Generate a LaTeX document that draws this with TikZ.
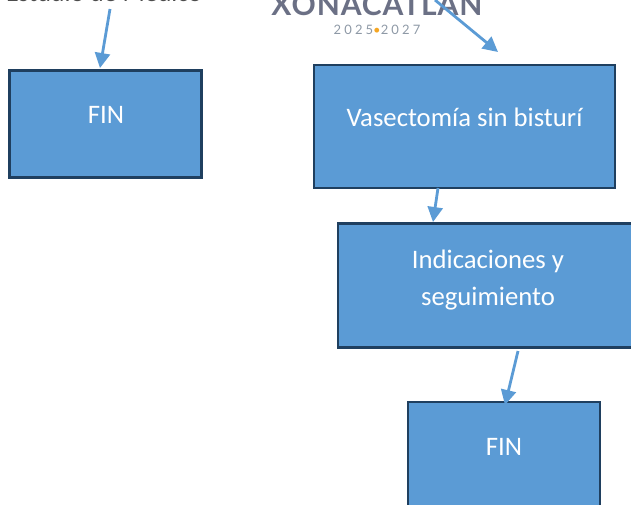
\documentclass[tikz,border=0pt]{standalone}
\usepackage{fontspec}
\setmainfont{Carlito}
\newfontfamily\logofont[LetterSpace=3]{Lato}
\newfontfamily\yearfont[LetterSpace=24]{Lato}
\definecolor{boxfill}{HTML}{5B9BD5}
\definecolor{boxline}{HTML}{1F3F5F}
\definecolor{logogrey}{HTML}{6B7085}
\definecolor{yeargrey}{HTML}{8E99A6}
\definecolor{dotorange}{HTML}{F5A623}
\usetikzlibrary{arrows.meta}
\tikzset{
  x=1pt,y=-1pt,
  flowbox/.style={rectangle,draw=boxline,line width=2.4pt,fill=boxfill,text=white,align=center,inner sep=0pt},
  boxlabel/.style={text=white,align=center,font=\fontsize{26.7}{37}\selectfont},
  flow/.style={draw=boxfill,line width=2.8pt,-{Triangle[length=15pt,width=15pt]}},
}
\begin{document}
\begin{tikzpicture}
\useasboundingbox (0,0) rectangle (631,504);
\clip (0,0) rectangle (631,504);
\node[anchor=center,text=black!70,font=\fontsize{26}{28}\selectfont] (cap) at (104,-7.6) {Estudio de Médico};
\node[anchor=center,text=logogrey,font=\logofont\bfseries\fontsize{30}{31}\selectfont] (logo) at (377,5) {XONACATLAN};
\node[anchor=center,text=yeargrey,font=\yearfont\fontsize{13}{14}\selectfont] (year) at (377,30) {2025\textcolor{dotorange}{\textbullet}2027};
\node[flowbox,minimum width=192pt,minimum height=107pt] (fin1) at (105.5,124) {};
\node[boxlabel] (fin1t) at (106,115) {FIN};
\node[flowbox,minimum width=301pt,minimum height=123pt] (vas) at (464.5,126.5) {};
\node[boxlabel] (vast) at (464.5,117) {Vasectomía sin bisturí};
\node[flowbox,minimum width=300pt,minimum height=124pt] (ind) at (488,285.5) {};
\node[boxlabel] (indt) at (488,280) {Indicaciones y\\seguimiento};
\node[flowbox,minimum width=192.5pt,minimum height=120pt] (fin2) at (504,462) {};
\node[boxlabel] (fin2t) at (504,447) {FIN};
\coordinate (a1) at (110,9);
\coordinate (a1e) at (100,68);
\coordinate (a2) at (435,0);
\coordinate (a2e) at (498,52);
\coordinate (a3) at (438,188);
\coordinate (a3e) at (433,222);
\coordinate (a4) at (518,351);
\coordinate (a4e) at (505,405);
\draw[flow] (a1) -- (a1e);
\draw[flow] (a2) -- (a2e);
\draw[flow] (a3) -- (a3e);
\draw[flow] (a4) -- (a4e);
\end{tikzpicture}
\end{document}
